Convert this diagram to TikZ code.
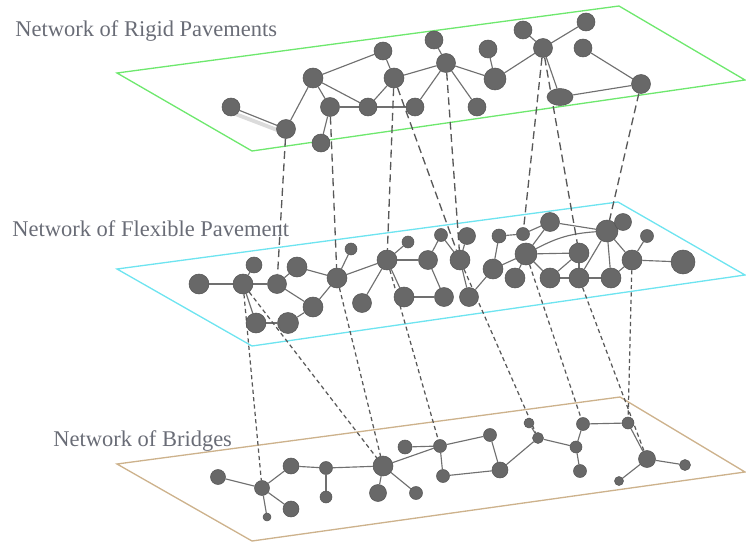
\documentclass[tikz,border=0pt]{standalone}
\usepackage{fontspec}
\setmainfont{Liberation Serif}
\usetikzlibrary{shapes.geometric,backgrounds}

\definecolor{nodegray}{RGB}{104,104,104}
\definecolor{nodeline}{RGB}{85,85,85}
\definecolor{edgegray}{RGB}{112,112,112}
\definecolor{dashgray}{RGB}{88,88,88}
\definecolor{planegreen}{RGB}{110,232,110}
\definecolor{planecyan}{RGB}{110,228,240}
\definecolor{planetan}{RGB}{205,178,140}
\definecolor{labelgray}{RGB}{105,108,118}

\tikzset{
  nd/.style={circle,fill=nodegray,draw=nodeline,line width=0.3pt,inner sep=0pt,minimum size=#1*0.02cm},
  nd/.default=19,
  edge/.style={draw=edgegray,line width=0.65pt},
  linktop/.style={draw=dashgray,line width=0.75pt,dash pattern=on 4.5pt off 2.5pt},
  linkbot/.style={draw=dashgray,line width=0.7pt,dash pattern=on 2.4pt off 1.8pt},
  plane/.style={line width=0.75pt},
  layername/.style={anchor=base west,text=labelgray,font=\fontsize{12.8}{15}\selectfont,inner sep=0pt}
}

\begin{document}
\begin{tikzpicture}[x=0.02cm,y=-0.02cm]
\useasboundingbox (0,0) rectangle (746,544);

\node[layername] (rigid) at (15,37) {Network of Rigid Pavements};
\node[layername] (flex) at (12,236) {Network of Flexible Pavement};
\node[layername] (bridge) at (53,446) {Network of Bridges};

% rigid pavements
\node[nd=18] (a1) at (231,107) {};
\node[nd] (a2) at (286,129) {};
\node[nd=20] (a3) at (313,78) {};
\node[nd] (a4) at (330,107) {};
\node[nd=18] (a5) at (321,143) {};
\node[nd=18] (a6) at (368,107) {};
\node[nd=18] (a7) at (383,51) {};
\node[nd=20] (a8) at (394,78) {};
\node[nd=18] (a9) at (415,107) {};
\node[nd=18] (a10) at (434,40) {};
\node[nd] (a11) at (446,63) {};
\node[nd=18] (a12) at (488,49) {};
\node[nd=22] (a13) at (495,79) {};
\node[nd=18] (a14) at (477,107) {};
\node[nd=18] (a15) at (523,30) {};
\node[nd] (a16) at (543,48) {};
\node[nd=18] (a17) at (586,22) {};
\node[nd=18] (a18) at (583,48) {};
\node[nd,ellipse,minimum width=26*0.02cm,minimum height=17*0.02cm] (a19) at (560,97) {};
\node[nd] (a20) at (641,84) {};

% flexible pavement
\node[nd=20] (b1) at (199,284) {};
\node[nd=20] (b2) at (243,284) {};
\node[nd=16] (b3) at (254,265) {};
\node[nd] (b4) at (277,284) {};
\node[nd=20] (b5) at (297,267) {};
\node[nd=20] (b6) at (256,323) {};
\node[nd=21] (b7) at (288,323) {};
\node[nd=20] (b8) at (313,307) {};
\node[nd=20] (b9) at (337,278) {};
\node[nd] (b10) at (362,303) {};
\node[nd=12] (b11) at (351,249) {};
\node[nd=20] (b12) at (387,260) {};
\node[nd=12] (b13) at (408,242) {};
\node[nd] (b14) at (428,260) {};
\node[nd=13] (b15) at (441,235) {};
\node[nd=17] (b16) at (467,236) {};
\node[nd=20] (b17) at (460,260) {};
\node[nd=20] (b18) at (404,297) {};
\node[nd] (b19) at (444,297) {};
\node[nd] (b20) at (469,297) {};
\node[nd=20] (b21) at (493,269) {};
\node[nd=14] (b22) at (499,236) {};
\node[nd=13] (b23) at (523,234) {};
\node[nd=20] (b24) at (515,278) {};
\node[nd=22] (b25) at (526,254) {};
\node[nd] (b26) at (550,222) {};
\node[nd=20] (b27) at (550,278) {};
\node[nd=20] (b28) at (579,253) {};
\node[nd=20] (b29) at (579,278) {};
\node[nd=22] (b30) at (607,231) {};
\node[nd=17] (b31) at (623,222) {};
\node[nd=20] (b32) at (611,278) {};
\node[nd=20] (b33) at (632,260) {};
\node[nd=13] (b34) at (647,236) {};
\node[nd=24] (b35) at (683,262) {};

% bridges
\node[nd=15] (c1) at (218,477) {};
\node[nd=15] (c2) at (262,488) {};
\node[nd=8] (c3) at (267,517) {};
\node[nd=16] (c4) at (291,509) {};
\node[nd=16] (c5) at (291,466) {};
\node[nd=13] (c6) at (326,468) {};
\node[nd=12] (c7) at (326,497) {};
\node[nd=20] (c8) at (383,466) {};
\node[nd=17] (c9) at (378,493) {};
\node[nd=13] (c10) at (416,493) {};
\node[nd=14] (c11) at (405,447) {};
\node[nd=13] (c12) at (440,446) {};
\node[nd=13] (c13) at (443,476) {};
\node[nd=13] (c14) at (490,435) {};
\node[nd=16] (c15) at (500,470) {};
\node[nd=10] (c16) at (529,423) {};
\node[nd=11] (c17) at (538,438) {};
\node[nd=12] (c18) at (576,447) {};
\node[nd=13] (c19) at (580,471) {};
\node[nd=13] (c20) at (583,424) {};
\node[nd=12] (c21) at (628,423) {};
\node[nd=17] (c22) at (647,459) {};
\node[nd=11] (c23) at (685,465) {};
\node[nd=9] (c24) at (619,481) {};

\begin{scope}[on background layer]
% planes
\draw[plane,draw=planegreen] (117,73) -- (619,6) -- (745,80) -- (252,151) -- cycle;
\draw[plane,draw=planecyan] (117,269) -- (618,202) -- (745,275) -- (252,346) -- cycle;
\draw[plane,draw=planetan] (117,464) -- (620,397) -- (745,472) -- (252,541) -- cycle;

% shadow under a1--a2
\draw[black!14,line width=2.2pt,line cap=round] ([yshift=-3pt]a1.center) -- ([yshift=-2.5pt]a2.center);

% edges
\foreach \u/\v in {a1/a2,a2/a3,a3/a4,a3/a7,a3/a6,a4/a6,a4/a5,a6/a9,a7/a8,a8/a6,a8/a11,a9/a11,a10/a11,
  a11/a14,a11/a13,a12/a13,a13/a16,a15/a16,a16/a17,a16/a19,a19/a20,a18/a20}
  \draw[edge] (\u) -- (\v);
\foreach \u/\v in {b1/b2,b2/b3,b2/b4,b2/b6,b4/b5,b4/b8,b5/b9,b6/b7,b7/b8,b8/b9,b9/b11,b9/b12,b10/b12,
  b12/b13,b12/b14,b12/b18,b14/b15,b15/b17,b16/b17,b17/b20,b18/b19,b19/b14,b20/b21,b21/b22,b21/b25,
  b22/b23,b23/b26,b25/b26,b25/b24,b25/b27,b25/b28,b26/b30,b27/b29,b27/b28,b28/b29,b30/b29,b30/b32,
  b30/b33,b29/b32,b32/b33,b33/b34,b33/b35}
  \draw[edge] (\u) -- (\v);
\draw[edge] (b25) to[bend left=12] (b30);
\foreach \u/\v in {c1/c2,c2/c3,c2/c4,c2/c5,c5/c6,c6/c7,c6/c8,c8/c9,c8/c10,c8/c12,c11/c12,c12/c13,
  c12/c14,c14/c15,c13/c15,c15/c17,c16/c17,c17/c18,c18/c19,c18/c20,c20/c21,c21/c22,c22/c23,c22/c24}
  \draw[edge] (\u) -- (\v);

% links between layers
\foreach \u/\v in {a2/b4,a4/b9,a8/b12,a8/b17,a11/b17,a16/b23,a16/b28,a20/b30}
  \draw[linktop] (\u) -- (\v);
\foreach \u/\v in {b2/c2,b2/c8,b9/c8,b12/c12,b17/c17,b25/c20,b29/c22,b33/c21}
  \draw[linkbot] (\u) -- (\v);
\end{scope}

\end{tikzpicture}
\end{document}
